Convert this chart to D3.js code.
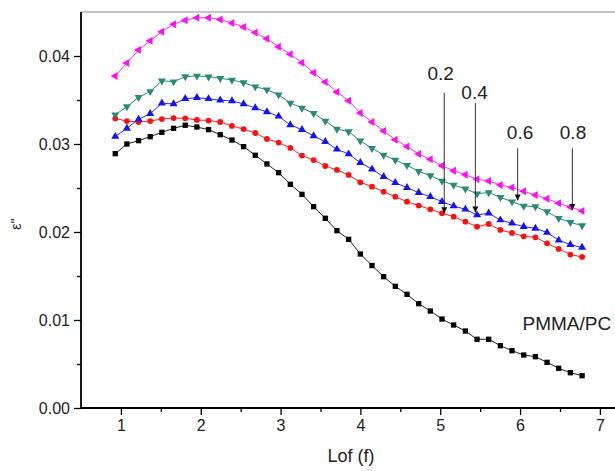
<!DOCTYPE html>
<html>
<head>
<meta charset="utf-8">
<script src="https://cdn.jsdelivr.net/npm/d3@7"></script>
<style>
  body { margin: 0; background: #fff; }
  svg { display: block; font-family: "Liberation Sans", Arial, sans-serif; }
</style>
</head>
<body>
<div id="chart"></div>
<script>
// log of frequency (x values)
let logF = [0.929, 1.075, 1.221, 1.367, 1.513, 1.660, 1.806, 1.952, 2.098, 2.244,
            2.391, 2.537, 2.683, 2.829, 2.975, 3.122, 3.268, 3.414, 3.560, 3.706,
            3.853, 3.999, 4.145, 4.291, 4.437, 4.584, 4.730, 4.876, 5.022, 5.168,
            5.315, 5.461, 5.607, 5.753, 5.899, 6.046, 6.192, 6.338, 6.484, 6.630, 6.777];

// dielectric loss, one array per sample
let pmmaPc = [0.02890, 0.03000, 0.03038, 0.03083, 0.03133, 0.03178, 0.03213, 0.03193, 0.03163, 0.03106,
              0.03045, 0.02970, 0.02872, 0.02773, 0.02674, 0.02542, 0.02428, 0.02288, 0.02156, 0.02015,
              0.01917, 0.01750, 0.01619, 0.01492, 0.01383, 0.01292, 0.01185, 0.01102, 0.01011, 0.00943,
              0.00875, 0.00781, 0.00781, 0.00708, 0.00651, 0.00602, 0.00583, 0.00519, 0.00451, 0.00401, 0.00367];
let s02 = [0.03290, 0.03261, 0.03250, 0.03261, 0.03284, 0.03295, 0.03292, 0.03273, 0.03267, 0.03250,
           0.03205, 0.03170, 0.03125, 0.03057, 0.03017, 0.02955, 0.02869, 0.02818, 0.02750, 0.02705,
           0.02648, 0.02565, 0.02515, 0.02458, 0.02401, 0.02344, 0.02301, 0.02258, 0.02213, 0.02174,
           0.02117, 0.02060, 0.02091, 0.02023, 0.01989, 0.01951, 0.01940, 0.01872, 0.01807, 0.01744, 0.01716];
let s04 = [0.03085, 0.03178, 0.03281, 0.03344, 0.03463, 0.03455, 0.03515, 0.03526, 0.03514, 0.03497,
           0.03489, 0.03455, 0.03409, 0.03364, 0.03315, 0.03216, 0.03163, 0.03091, 0.03026, 0.02940,
           0.02886, 0.02788, 0.02713, 0.02628, 0.02560, 0.02503, 0.02447, 0.02401, 0.02344, 0.02295,
           0.02258, 0.02193, 0.02213, 0.02136, 0.02099, 0.02060, 0.02042, 0.01994, 0.01906, 0.01856, 0.01824];
let s06 = [0.03333, 0.03424, 0.03531, 0.03597, 0.03718, 0.03708, 0.03765, 0.03773, 0.03764, 0.03747,
           0.03727, 0.03697, 0.03651, 0.03617, 0.03560, 0.03466, 0.03409, 0.03349, 0.03261, 0.03170,
           0.03140, 0.03036, 0.02951, 0.02875, 0.02818, 0.02758, 0.02690, 0.02640, 0.02580, 0.02534,
           0.02491, 0.02435, 0.02449, 0.02394, 0.02344, 0.02295, 0.02288, 0.02231, 0.02156, 0.02110, 0.02072];
let s08 = [0.03773, 0.03920, 0.04068, 0.04173, 0.04276, 0.04361, 0.04406, 0.04435, 0.04435, 0.04415,
           0.04375, 0.04330, 0.04267, 0.04195, 0.04106, 0.04019, 0.03924, 0.03810, 0.03705, 0.03591,
           0.03491, 0.03352, 0.03250, 0.03148, 0.03049, 0.02972, 0.02886, 0.02826, 0.02752, 0.02697,
           0.02651, 0.02600, 0.02580, 0.02534, 0.02506, 0.02462, 0.02420, 0.02377, 0.02326, 0.02284, 0.02239];

// arrow annotations
let annLabels = ["0.2", "0.4", "0.6", "0.8"];
let annX = [5.05, 5.44, 5.97, 6.655];
let annLabelX = [5.005, 5.43, 6.0, 6.663];
let annLabelY = [0.03727, 0.03508, 0.03053, 0.03053];
let annFrom = [0.03583, 0.03466, 0.02951, 0.02951];
let annTo = [0.02213, 0.02222, 0.02358, 0.02250];

let xTicks = [1, 2, 3, 4, 5, 6, 7];
let yTicks = [0, 0.01, 0.02, 0.03, 0.04];

let width = 615, height = 471;
let margin = {left: 81, top: 12, bottom: 63};

let svg = d3.select("#chart").append("svg")
    .attr("width", width)
    .attr("height", height);

let x = d3.scaleLinear().domain([0.5, 7.25]).range([margin.left, margin.left + 6.75 * 79.83]);
let y = d3.scaleLinear().domain([0, 0.045]).range([height - margin.bottom, margin.top]);

// top frame line
svg.append("line")
    .attr("x1", x(0.5)).attr("x2", width)
    .attr("y1", y(0.045)).attr("y2", y(0.045))
    .attr("stroke", "#8a8a8a")
    .attr("stroke-width", 1.2);

// minor ticks
svg.append("g")
    .attr("transform", `translate(0,${y(0)})`)
    .call(d3.axisBottom(x).tickValues([1.5, 2.5, 3.5, 4.5, 5.5, 6.5]).tickSize(4).tickFormat(""))
    .call(g => g.select(".domain").remove())
    .selectAll("line").attr("stroke-width", 1.3);
svg.append("g")
    .attr("transform", `translate(${x(0.5)},0)`)
    .call(d3.axisLeft(y).tickValues([0.005, 0.015, 0.025, 0.035]).tickSize(4).tickFormat(""))
    .call(g => g.select(".domain").remove())
    .selectAll("line").attr("stroke-width", 1.3);

// main axes
let xAxis = svg.append("g")
    .attr("transform", `translate(0,${y(0)})`)
    .call(d3.axisBottom(x).tickValues(xTicks).tickSize(7).tickPadding(5).tickFormat(d3.format("d")));
let yAxis = svg.append("g")
    .attr("transform", `translate(${x(0.5)},0)`)
    .call(d3.axisLeft(y).tickValues(yTicks).tickSize(7).tickPadding(4).tickFormat(d3.format(".2f")));

[xAxis, yAxis].forEach(a => {
    a.select(".domain").attr("stroke-width", 1.8);
    a.selectAll("line").attr("stroke-width", 1.3);
    a.selectAll("text")
        .attr("font-size", 16)
        .attr("font-family", "Liberation Sans, Arial, sans-serif")
        .attr("fill", "#222");
});
// stretch domains so they meet the frame
xAxis.select(".domain").attr("d", `M${x(0.5)},0H${width}`);
yAxis.select(".domain").attr("d", `M0,${y(0)}V${y(0.045)}`);

// axis titles
svg.append("text")
    .attr("x", 351)
    .attr("y", 462)
    .attr("text-anchor", "middle")
    .attr("font-size", 18)
    .attr("fill", "#222")
    .text("Lof (f)");

svg.append("text")
    .attr("transform", "translate(21,224) rotate(-90)")
    .attr("text-anchor", "middle")
    .attr("font-size", 14)
    .attr("fill", "#222")
    .text("ε''");

// series
let series = [
    {values: pmmaPc, color: "#000000", line: "#222", symbol: d3.symbolSquare, size: 28, rot: 0},
    {values: s02, color: "#ff1010", line: "#ff2020", symbol: d3.symbolCircle, size: 26, rot: 0},
    {values: s04, color: "#1414f0", line: "#2a2aff", symbol: d3.symbolTriangle, size: 28, rot: 0},
    {values: s06, color: "#2a8a78", line: "#2a8a78", symbol: d3.symbolTriangle, size: 28, rot: 180},
    {values: s08, color: "#ff10f0", line: "#ff30f0", symbol: d3.symbolTriangle, size: 28, rot: -90}
];

let line = d3.line()
    .x((d, i) => x(logF[i]))
    .y(d => y(d));

series.forEach(s => {
    svg.append("path")
        .datum(s.values)
        .attr("d", line)
        .attr("fill", "none")
        .attr("stroke", s.line)
        .attr("stroke-width", 1);

    svg.append("g").selectAll("path")
        .data(s.values)
        .enter()
        .append("path")
        .attr("d", d3.symbol().type(s.symbol).size(s.size))
        .attr("transform", (d, i) => `translate(${x(logF[i])},${y(d)}) rotate(${s.rot})`)
        .attr("fill", s.color);
});

// arrowhead
svg.append("defs").append("marker")
    .attr("id", "arrow")
    .attr("viewBox", "0 0 10 10")
    .attr("refX", 10)
    .attr("refY", 5)
    .attr("markerWidth", 6)
    .attr("markerHeight", 9)
    .attr("markerUnits", "userSpaceOnUse")
    .attr("orient", "auto")
    .append("path")
    .attr("d", "M0,0L10,5L0,10z")
    .attr("fill", "#111");

for (let i = 0; i < annLabels.length; i++) {
    svg.append("line")
        .attr("x1", x(annX[i]))
        .attr("x2", x(annX[i]))
        .attr("y1", y(annFrom[i]))
        .attr("y2", y(annTo[i]))
        .attr("stroke", "#333")
        .attr("stroke-width", 1)
        .attr("marker-end", "url(#arrow)");

    svg.append("text")
        .attr("x", x(annLabelX[i]))
        .attr("y", y(annLabelY[i]))
        .attr("text-anchor", "middle")
        .attr("font-size", 19)
        .attr("fill", "#222")
        .text(annLabels[i]);
}

svg.append("text")
    .attr("x", x(6.03))
    .attr("y", y(0.00886))
    .attr("font-size", 19)
    .attr("fill", "#222")
    .text("PMMA/PC");
</script>
</body>
</html>
